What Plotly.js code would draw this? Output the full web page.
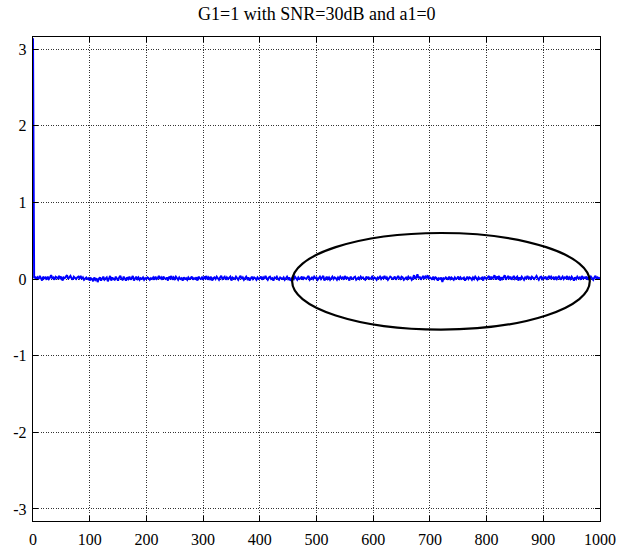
<!DOCTYPE html>
<html>
<head>
<meta charset="utf-8">
<script src="https://cdn.plot.ly/plotly-3.0.1.min.js"></script>
<style>html,body{margin:0;padding:0;background:#fff;}#chart{width:620px;height:552px;}</style>
</head>
<body>
<div id="chart"></div>
<script>
// sample spacing along x (index * step)
const xStep = 2;
// estimated signal values (phase, rad): spike at the start, then noise near 0
const phase = [
3.14,0.01,0.03,-0.01,0.02,0.00,0.04,0.01,-0.02,0.03,
0.01,0.02,-0.01,0.03,0.00,0.02,0.05,0.01,0.02,-0.01,
0.03,0.02,0.00,0.04,0.01,0.03,-0.02,0.02,0.01,0.03,
0.05,0.00,0.02,0.04,0.01,-0.01,0.03,0.02,0.00,0.02,
0.03,0.01,0.04,0.00,0.02,-0.01,0.01,0.02,0.00,0.01,
-0.02,0.01,0.00,-0.03,0.02,-0.01,0.01,-0.04,0.00,0.02,
-0.02,0.01,0.03,-0.01,0.00,0.02,-0.03,0.01,0.04,-0.02,
0.02,0.00,-0.01,0.03,0.01,-0.02,0.02,0.04,0.00,-0.01,
0.03,0.01,-0.02,0.02,0.00,0.03,-0.01,0.01,0.04,-0.02,
0.01,0.03,0.00,0.02,-0.01,0.01,0.00,0.02,-0.01,0.01,
0.00,0.02,0.01,-0.01,0.01,0.00,0.02,-0.01,0.03,0.00,
0.01,0.04,0.00,0.02,-0.01,0.03,0.01,0.00,0.02,-0.02,
0.03,0.01,0.04,-0.01,0.02,0.00,0.03,0.01,-0.01,0.02,
0.00,0.01,-0.02,0.02,0.00,0.01,-0.01,0.02,0.00,0.01,
0.03,-0.01,0.01,0.00,0.02,-0.02,0.03,0.01,0.00,0.02,
-0.01,0.03,0.01,0.04,-0.01,0.02,0.00,0.03,-0.02,0.01,
0.02,0.00,0.03,0.01,-0.01,0.02,0.04,0.00,0.01,0.03,
-0.01,0.02,0.00,0.01,0.03,-0.02,0.02,0.01,0.00,0.03,
0.01,-0.01,0.02,0.04,0.00,0.02,-0.01,0.01,0.03,0.00,
0.02,-0.02,0.01,0.03,0.00,0.02,0.01,-0.01,0.02,0.00,
0.01,0.03,-0.01,0.02,0.00,0.04,0.01,-0.01,0.02,0.03,
0.00,0.01,-0.02,0.02,0.01,0.03,0.00,-0.01,0.02,0.01,
0.00,0.02,-0.01,0.01,0.03,0.00,0.02,-0.02,0.01,0.02,
0.00,0.03,0.01,-0.01,0.02,0.00,0.01,0.03,-0.01,0.02,
0.01,0.00,0.02,0.04,-0.01,0.01,0.02,0.00,0.03,0.01,
0.02,-0.01,0.01,0.03,0.00,0.02,0.04,-0.02,0.01,0.03,
0.00,0.02,-0.01,0.01,0.03,0.00,0.02,0.01,-0.01,0.02,
0.00,0.03,0.01,0.02,-0.01,0.04,0.00,0.02,0.01,-0.02,
0.03,0.01,0.00,0.02,0.03,-0.01,0.01,0.02,0.00,0.03,
0.01,0.02,0.00,-0.01,0.03,0.01,0.02,0.00,0.01,0.03,
0.00,0.02,0.01,-0.01,0.02,0.01,0.03,0.00,0.02,0.01,
0.04,0.00,0.02,-0.01,0.01,0.03,0.02,0.00,0.01,0.03,
-0.01,0.02,0.04,0.01,0.00,0.03,0.02,-0.01,0.01,0.02,
0.00,0.03,0.01,0.02,-0.01,0.01,0.05,0.00,0.02,0.06,
0.01,0.03,-0.01,0.02,0.04,0.00,0.03,0.01,0.05,0.00,
0.02,0.01,-0.01,0.03,0.00,0.02,0.01,-0.02,0.01,0.00,
0.02,-0.04,0.01,0.00,0.02,0.01,-0.01,0.03,0.00,0.02,
0.01,-0.01,0.02,0.00,0.01,0.03,-0.01,0.02,0.00,0.01,
0.02,-0.02,0.01,0.03,0.00,0.02,0.01,-0.01,0.02,0.00,
0.03,0.01,-0.01,0.02,0.00,0.01,0.02,-0.02,0.03,0.01,
0.00,0.02,0.04,-0.01,0.03,0.00,0.02,0.05,-0.01,0.03,
0.01,0.04,-0.02,0.02,0.00,0.03,0.05,-0.01,0.02,0.04,
0.00,0.03,-0.01,0.02,0.04,0.00,0.01,0.03,-0.02,0.02,
0.00,0.03,0.01,-0.01,0.02,0.00,0.04,0.01,0.02,-0.01,
0.03,0.01,0.00,0.02,0.04,0.01,-0.01,0.02,0.03,0.00,
0.02,0.01,0.03,-0.01,0.02,0.04,0.00,0.03,0.01,0.02,
-0.01,0.03,0.00,0.02,0.04,-0.01,0.01,0.03,0.00,0.02,
0.01,0.04,-0.01,0.02,0.00,0.03,0.01,-0.02,0.02,0.00,
0.03,0.01,0.02,-0.01,0.04,0.00,0.02,0.01,0.03,-0.01,
0.02,0.00,0.03,0.01,-0.01,0.02,0.04,0.00,0.02,0.01,
0.02
];
const xTicks = [0,100,200,300,400,500,600,700,800,900,1000];
const yTicks = [-3,-2,-1,0,1,2,3];
// highlight ellipse bounds [x0, x1, y0, y1] in data units
const ellipseBox = [457, 982, -0.66, 0.60];

const xs = phase.map((_, i) => i * xStep);

const trace = {
  x: xs, y: phase, type: 'scatter', mode: 'lines',
  line: {color: '#0000ff', width: 2},
  hoverinfo: 'skip', showlegend: false
};

const fontFam = 'Liberation Serif, Times New Roman, serif';
const axisCommon = {
  showline: true, linecolor: '#000', linewidth: 1.3, mirror: 'ticks',
  ticks: 'inside', ticklen: 5, tickcolor: '#000', tickwidth: 1,
  showgrid: true, gridcolor: '#333', griddash: '1px,1.5px', gridwidth: 1,
  zeroline: false,
  tickfont: {family: fontFam, size: 16, color: '#000'}
};

const layout = {
  width: 620, height: 552,
  margin: {l: 33, r: 20, t: 37, b: 31},
  paper_bgcolor: '#fff', plot_bgcolor: '#fff',
  title: {text: 'G1=1 with SNR=30dB and a1=0', x: 0.511, xanchor: 'center', y: 0.975, yanchor: 'middle',
          font: {family: fontFam, size: 18, color: '#000'}},
  xaxis: Object.assign({}, axisCommon, {range: [0, 1000], tickvals: xTicks, ticktext: xTicks.map(String), ticklabelstandoff: 3}),
  yaxis: Object.assign({}, axisCommon, {range: [-3.157, 3.157], tickvals: yTicks, ticktext: yTicks.map(String), ticklabelstandoff: 2}),
  shapes: [{
    type: 'circle', xref: 'x', yref: 'y',
    x0: ellipseBox[0], x1: ellipseBox[1], y0: ellipseBox[2], y1: ellipseBox[3],
    line: {color: '#000', width: 2.2}
  }]
};

Plotly.newPlot('chart', [trace], layout, {staticPlot: true, displayModeBar: false});
</script>
</body>
</html>
